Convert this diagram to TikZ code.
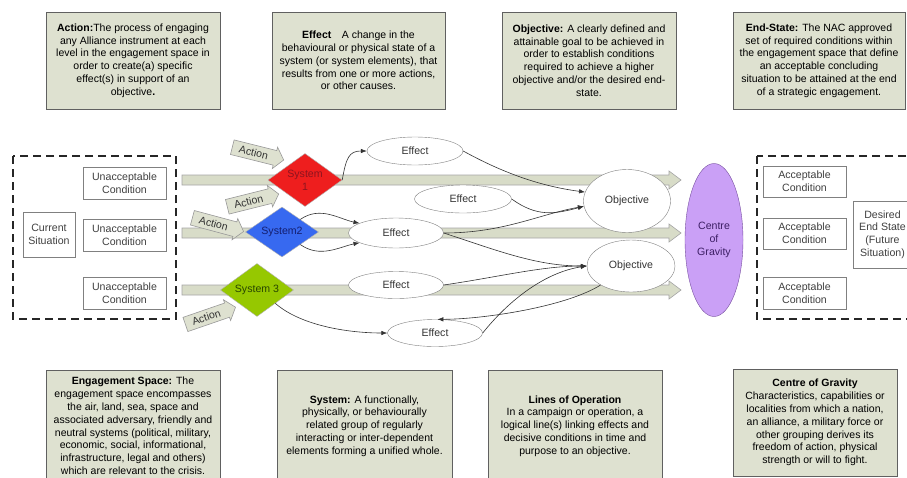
\documentclass[tikz,border=0pt]{standalone}
\usepackage{fontspec}
\setmainfont{Liberation Sans}
\usetikzlibrary{shapes.geometric,arrows.meta}
\definecolor{defgreen}{RGB}{222,225,208}
\definecolor{lopgreen}{RGB}{216,220,200}
\definecolor{sysred}{RGB}{238,30,30}
\definecolor{sysblue}{RGB}{55,105,240}
\definecolor{sysgreen}{RGB}{150,200,0}
\definecolor{cogviolet}{RGB}{202,160,246}
\newcommand{\nodefont}{\fontsize{10.6}{12.8}\selectfont}
\newcommand{\deffont}{\fontsize{10.5}{12.8}\selectfont}
\newcommand{\opline}[1]{\draw[lopbar] (182,#1-5) -- (669,#1-5) -- (669,#1-9) -- (681,#1) -- (669,#1+9) -- (669,#1+5) -- (182,#1+5) -- cycle;}
\newcommand{\actionshape}{\draw[actionbody] (-26,-7.5) -- (18,-7.5) -- (18,-11) -- (27,0) -- (18,11) -- (18,7.5) -- (-26,7.5) -- cycle;}
\tikzset{
  defbox/.style={draw=gray!75!black, line width=0.8pt, fill=defgreen, align=center, inner sep=2pt, font=\deffont},
  condbox/.style={draw=gray, fill=white, align=center, inner sep=1pt, minimum width=83pt, minimum height=32pt, font=\nodefont, text=black!75},
  dashbox/.style={draw=black!85, line width=1.6pt, dash pattern=on 8pt off 5pt},
  lopbar/.style={draw=gray!70, fill=lopgreen, line width=0.6pt},
  sysnode/.style={diamond, draw=gray!60, aspect=1.4, inner sep=0pt, align=center, font=\nodefont},
  actionbody/.style={draw=gray!80, fill=defgreen, line width=0.6pt},
  actiontext/.style={inner sep=0pt, font=\nodefont, text=black!80},
  effectnode/.style={ellipse, draw=gray, fill=white, inner sep=0pt, minimum width=95pt, minimum height=28pt, font=\nodefont, text=black!80},
  conn/.style={-{Latex[length=6pt,width=4.5pt]}, black!80, line width=0.6pt}
}

\begin{document}
\begin{tikzpicture}[x=1pt, y=-1pt]
\path[use as bounding box, fill=white] (0,0) rectangle (907,477);

\node[defbox, minimum width=174pt, minimum height=97pt] (defaction) at (133,60.5) {\textbf{Action:}The process of engaging\\ any Alliance instrument at each\\ level in the engagement space in\\ order to create(a) specific\\ effect(s) in support of an\\ objective\textbf{.}};
\node[defbox, minimum width=173pt, minimum height=97pt] (defeffect) at (358.5,60.5) {\textbf{Effect}\quad A change in the\\ behavioural or physical state of a\\ system (or system elements), that\\ results from one or more actions,\\ or other causes.};
\node[defbox, minimum width=174pt, minimum height=97pt] (defobjective) at (589,60.5) {\textbf{Objective:} A clearly defined and\\ attainable goal to be achieved in\\ order to establish conditions\\ required to achieve a higher\\ objective and/or the desired end-\\ state.};
\node[defbox, minimum width=172pt, minimum height=97pt] (defendstate) at (819,60.5) {\textbf{End-State:} The NAC approved\\ set of required conditions within\\ the engagement space that define\\ an acceptable concluding\\ situation to be attained at the end\\ of a strategic engagement.};

\node[defbox, minimum width=174pt, minimum height=112pt] (defspace) at (133,426) {\textbf{Engagement Space:} The\\ engagement space encompasses\\ the air, land, sea, space and\\ associated adversary, friendly and\\ neutral systems (political, military,\\ economic, social, informational,\\ infrastructure, legal and others)\\ which are relevant to the crisis.};
\node[defbox, minimum width=175pt, minimum height=112pt] (defsystem) at (364.5,426) {\textbf{System:} A functionally,\\ physically, or behaviourally\\ related group of regularly\\ interacting or inter-dependent\\ elements forming a unified whole.};
\node[defbox, minimum width=174pt, minimum height=112pt] (deflines) at (575,426) {\textbf{Lines of Operation}\\ In a campaign or operation, a\\ logical line(s) linking effects and\\ decisive conditions in time and\\ purpose to an objective.};
\node[defbox, minimum width=164pt, minimum height=107pt] (defcog) at (815,422.5) {\textbf{Centre of Gravity}\\ Characteristics, capabilities or\\ localities from which a nation,\\ an alliance, a military force or\\ other grouping derives its\\ freedom of action, physical\\ strength or will to fight.};

\draw[dashbox] (13,156) rectangle (176,319);
\node[condbox, minimum width=52pt, minimum height=45pt] (current) at (49,234.5) {Current\\Situation};
\node[condbox] (unacc1) at (124.5,183) {Unacceptable\\Condition};
\node[condbox] (unacc2) at (124.5,235.5) {Unacceptable\\Condition};
\node[condbox] (unacc3) at (124.5,293) {Unacceptable\\Condition};

\draw[dashbox] (757,156) rectangle (935,319);
\node[condbox, minimum height=31pt] (acc1) at (804.5,181.5) {Acceptable\\Condition};
\node[condbox, minimum height=31pt] (acc2) at (804.5,233.5) {Acceptable\\Condition};
\node[condbox, minimum height=32pt] (acc3) at (804.5,293) {Acceptable\\Condition};
\node[condbox, minimum width=59pt, minimum height=67pt] (endstate) at (882.5,234.5) {Desired\\End State\\(Future\\Situation)};

\opline{180}
\opline{233}
\opline{290}

\node[sysnode, fill=sysred, text={rgb,255:red,140;green,20;blue,30}, minimum width=74pt, minimum height=53pt] (sys1) at (305,180) {System\\1};
\node[sysnode, fill=sysblue, text={rgb,255:red,20;green,30;blue,110}, minimum width=73pt, minimum height=50pt] (sys2) at (282,232) {System2};
\node[sysnode, fill=sysgreen, text={rgb,255:red,40;green,70;blue,0}, minimum width=73pt, minimum height=53pt] (sys3) at (257,290) {System 3};

\begin{scope}[shift={(257.5,153.5)}, rotate=-14]
  \actionshape
  \node[actiontext, transform shape] (act1) at (-4,0) {Action};
\end{scope}
\begin{scope}[shift={(252.5,200.5)}, rotate=14]
  \actionshape
  \node[actiontext, transform shape] (act2) at (-4,0) {Action};
\end{scope}
\begin{scope}[shift={(217.5,224.5)}, rotate=-15]
  \actionshape
  \node[actiontext, transform shape] (act3) at (-4,0) {Action};
\end{scope}
\begin{scope}[shift={(210,316)}, rotate=19]
  \actionshape
  \node[actiontext, transform shape] (act4) at (-4,0) {Action};
\end{scope}

\node[effectnode, minimum width=96pt] (eff1) at (415,151) {Effect};
\node[effectnode, minimum width=97pt] (eff2) at (463,199) {Effect};
\node[effectnode, minimum height=30pt] (eff3) at (396,233) {Effect};
\node[effectnode, minimum height=27pt] (eff4) at (396,285) {Effect};
\node[effectnode, minimum height=27pt] (eff5) at (435,333) {Effect};

\node[effectnode, minimum width=87pt, minimum height=63pt] (obj1) at (627,201) {Objective};
\node[effectnode, minimum width=88pt, minimum height=52pt] (obj2) at (631,266) {Objective};

\node[ellipse, draw={rgb,255:red,120;green,80;blue,160}, fill=cogviolet, align=center, inner sep=0pt, minimum width=58pt, minimum height=153pt, font=\nodefont, text={rgb,255:red,60;green,30;blue,100}] (cog) at (714,240) {Centre\\of\\Gravity};

\draw[conn] (sys1.east) .. controls +(4,-22) and +(-18,0) .. (eff1.west);
\draw[conn] (sys2.north east) .. controls +(20,-14) and +(-20,-4) .. (eff3.165);
\draw[conn] (sys2.south east) .. controls +(20,14) and +(-20,4) .. (eff3.195);
\draw[conn] (sys3.south east) .. controls +(25,22) and +(-40,0) .. (eff5.west);
\draw[conn] (eff1.east) .. controls +(40,22) and +(-45,-6) .. (obj1.168);
\draw[conn] (eff2.east) .. controls +(25,18) and +(-30,8) .. (obj1.187);
\draw[conn] (eff3.east) .. controls +(60,0) and +(-45,8) .. (obj1.187);
\draw[conn] (eff3.east) .. controls +(55,18) and +(-50,0) .. (obj2.west);
\draw[conn] (eff4.east) .. controls +(55,-8) and +(-45,0) .. (obj2.west);
\draw[conn] (eff5.east) .. controls +(28,-35) and +(-40,6) .. (obj2.west);
\draw[conn] (obj2.212) .. controls +(-35,22) and +(45,0) .. (eff5.80);

\end{tikzpicture}
\end{document}
